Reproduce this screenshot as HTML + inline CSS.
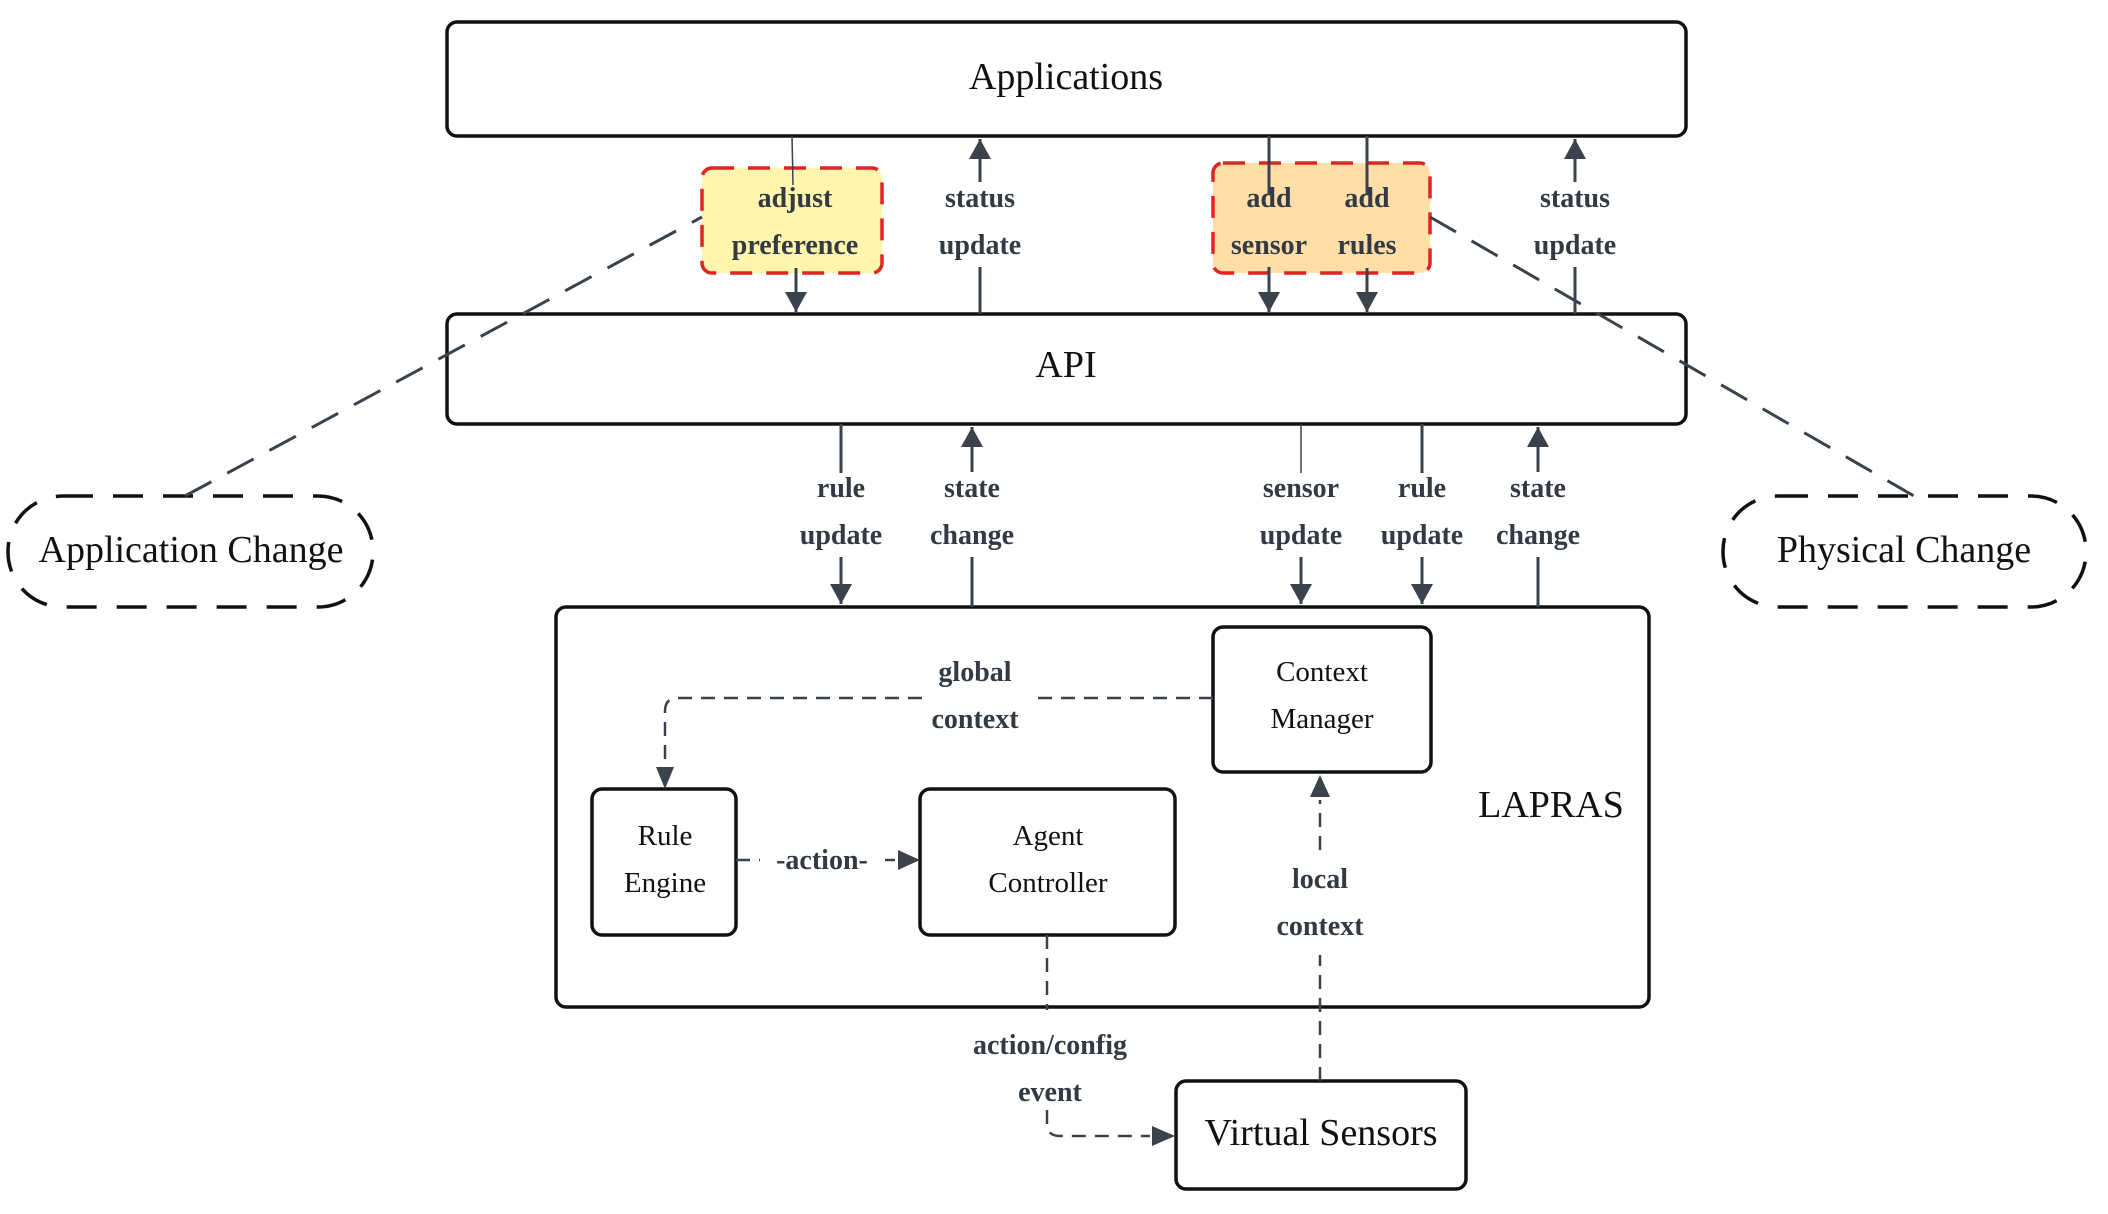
<!DOCTYPE html>
<html><head><meta charset="utf-8"><style>
html,body{margin:0;padding:0;background:#fff;}
svg{display:block;}
text{font-family:"Liberation Serif",serif;fill:#111;}
.lb{font-weight:bold;font-size:28px;fill:#333a44;}
.nd{font-size:29px;fill:#111;}
.big{font-size:38px;fill:#111;}
</style></head><body>
<svg width="2108" height="1214" viewBox="0 0 2108 1214" xmlns="http://www.w3.org/2000/svg">
<defs>
<marker id="ah" markerWidth="12" markerHeight="12" viewBox="0 0 12 12" refX="11" refY="6" orient="auto" markerUnits="userSpaceOnUse">
<path d="M0,0 L12,6 L0,12 z" fill="#3a424d"/>
</marker>
<marker id="ahb" markerWidth="20" markerHeight="22" viewBox="0 0 20 22" refX="20" refY="11" orient="auto" markerUnits="userSpaceOnUse">
<path d="M0,0 L20,11 L0,22 z" fill="#3a424d"/>
</marker>
</defs>
<g fill="#fff" stroke="#111" stroke-width="3.5">
<rect x="447" y="22" width="1239" height="114" rx="10"/>
<rect x="447" y="314" width="1239" height="110" rx="10"/>
<rect x="556" y="607" width="1093" height="400" rx="10"/>
<rect x="1213" y="627" width="218" height="145" rx="10"/>
<rect x="592" y="789" width="144" height="146" rx="10"/>
<rect x="920" y="789" width="255" height="146" rx="10"/>
<rect x="1176" y="1081" width="290" height="108" rx="10"/>
</g>
<g fill="none" stroke="#111" stroke-width="3.5" stroke-dasharray="30,20">
<rect x="8" y="496" width="365" height="111" rx="55"/>
<rect x="1723" y="496" width="363" height="111" rx="55"/>
</g>
<rect x="702" y="168" width="180" height="105" rx="10" fill="#fff5ad" stroke="#e02424" stroke-width="3.5" stroke-dasharray="22,14"/>
<rect x="1213" y="163" width="217" height="110" rx="10" fill="#ffdea8" stroke="#e02424" stroke-width="3.5" stroke-dasharray="22,14"/>
<g stroke="#3a424d" stroke-width="3" fill="none">
<line x1="185" y1="496" x2="702" y2="217" stroke-dasharray="30,18"/>
<line x1="1430" y1="217" x2="1914" y2="496" stroke-dasharray="30,18"/>
<line x1="792" y1="136" x2="793" y2="185" stroke-width="1.5"/>
<line x1="796" y1="268" x2="796" y2="312" marker-end="url(#ahb)"/>
<line x1="980" y1="182" x2="980" y2="139" marker-end="url(#ahb)"/>
<line x1="980" y1="267" x2="980" y2="314"/>
<line x1="1269" y1="136" x2="1269" y2="195"/>
<line x1="1269" y1="267" x2="1269" y2="312" marker-end="url(#ahb)"/>
<line x1="1367" y1="136" x2="1367" y2="195"/>
<line x1="1367" y1="268" x2="1367" y2="312" marker-end="url(#ahb)"/>
<line x1="1575" y1="182" x2="1575" y2="139" marker-end="url(#ahb)"/>
<line x1="1575" y1="267" x2="1575" y2="314"/>
<line x1="841" y1="424" x2="841" y2="473"/>
<line x1="841" y1="557" x2="841" y2="604" marker-end="url(#ahb)"/>
<line x1="972" y1="472" x2="972" y2="427" marker-end="url(#ahb)"/>
<line x1="972" y1="557" x2="972" y2="607"/>
<line x1="1301" y1="424" x2="1301" y2="473" stroke-width="1.5"/>
<line x1="1301" y1="557" x2="1301" y2="604" marker-end="url(#ahb)"/>
<line x1="1422" y1="424" x2="1422" y2="473"/>
<line x1="1422" y1="557" x2="1422" y2="604" marker-end="url(#ahb)"/>
<line x1="1538" y1="472" x2="1538" y2="427" marker-end="url(#ahb)"/>
<line x1="1538" y1="557" x2="1538" y2="607"/>
</g>
<g stroke="#3a424d" stroke-width="2.5" fill="none" stroke-dasharray="14,9">
<path d="M1213,698 L925,698 M898,698 L1030,698" stroke-dasharray="none" stroke="none"/>
<path d="M1213,698 L1030,698"/>
<path d="M922,698 L678,698 Q665,698 665,711 L665,770"/>
<path d="M736,860 L760,860"/>
<path d="M885,860 L895,860"/>
<path d="M1320,1081 L1320,955"/>
<path d="M1320,850 L1320,800"/>
<path d="M1047,935 L1047,1010"/>
<path d="M1047,1110 L1047,1124 Q1047,1136 1060,1136 L1150,1136"/>
</g>
<g fill="#3a424d">
<path d="M656,767 L674,767 L665,789 z"/>
<path d="M898,850 L920,860 L898,870 z"/>
<path d="M1310,797 L1330,797 L1320,775 z"/>
<path d="M1152,1126 L1175,1136 L1152,1146 z"/>
</g>
<g text-anchor="middle">
<text x="1066" y="89" class="big">Applications</text>
<text x="1066" y="377" class="big">API</text>
<text x="1551" y="817" class="big">LAPRAS</text>
<text x="191" y="562" class="big">Application Change</text>
<text x="1904" y="562" class="big">Physical Change</text>
<text x="1321" y="1145" class="big">Virtual Sensors</text>
<text x="1322" y="681" class="nd">Context</text>
<text x="1322" y="728" class="nd">Manager</text>
<text x="665" y="845" class="nd">Rule</text>
<text x="665" y="892" class="nd">Engine</text>
<text x="1048" y="845" class="nd">Agent</text>
<text x="1048" y="892" class="nd">Controller</text>
<text x="795" y="207" class="lb">adjust</text>
<text x="795" y="254" class="lb">preference</text>
<text x="980" y="207" class="lb">status</text>
<text x="980" y="254" class="lb">update</text>
<text x="1269" y="207" class="lb">add</text>
<text x="1269" y="254" class="lb">sensor</text>
<text x="1367" y="207" class="lb">add</text>
<text x="1367" y="254" class="lb">rules</text>
<text x="1575" y="207" class="lb">status</text>
<text x="1575" y="254" class="lb">update</text>
<text x="841" y="497" class="lb">rule</text>
<text x="841" y="544" class="lb">update</text>
<text x="972" y="497" class="lb">state</text>
<text x="972" y="544" class="lb">change</text>
<text x="1301" y="497" class="lb">sensor</text>
<text x="1301" y="544" class="lb">update</text>
<text x="1422" y="497" class="lb">rule</text>
<text x="1422" y="544" class="lb">update</text>
<text x="1538" y="497" class="lb">state</text>
<text x="1538" y="544" class="lb">change</text>
<text x="975" y="681" class="lb">global</text>
<text x="975" y="728" class="lb">context</text>
<text x="822" y="869" class="lb">-action-</text>
<text x="1320" y="888" class="lb">local</text>
<text x="1320" y="935" class="lb">context</text>
<text x="1050" y="1054" class="lb">action/config</text>
<text x="1050" y="1101" class="lb">event</text>
</g>
</svg>
</body></html>
